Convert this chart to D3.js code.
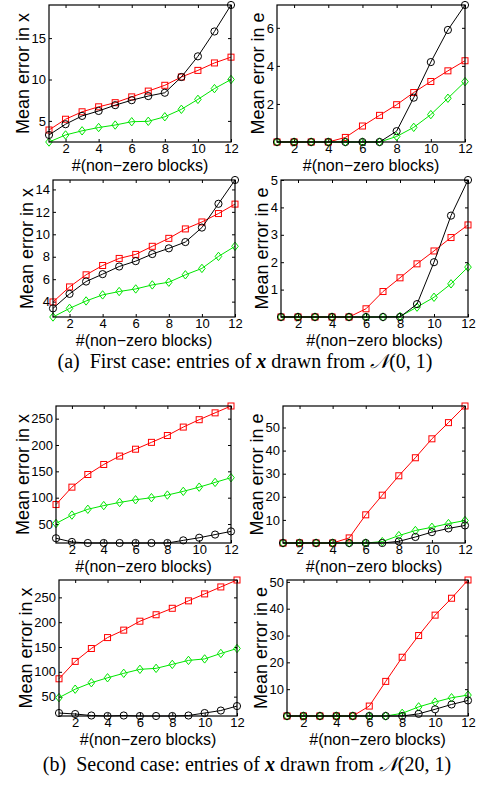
<!DOCTYPE html>
<meta charset="utf-8">
<style>
  body { margin: 0; background: #fff; }
  svg { display: block; }
  .tick text { font-family: "Liberation Sans", Arial, sans-serif; font-size: 13px; fill: #000; }
  .tick line { stroke: #000; }
  .label { font-family: "Liberation Sans", Arial, sans-serif; fill: #000; }
  .caption { font-family: "Liberation Serif", "Times New Roman", serif; font-size: 20px; fill: #000; }
</style>
<svg width="478" height="786"></svg>
<script src="https://cdn.jsdelivr.net/npm/d3@7"></script>
<script>
  // number of non-zero blocks (x axis)
  var blocks = [1, 2, 3, 4, 5, 6, 7, 8, 9, 10, 11, 12];
  var xTicks = [2, 4, 6, 8, 10, 12];

  // (a) first case, x ~ N(0,1)
  var aErrXRed   = [3.9, 5.2, 6.1, 6.7, 7.2, 7.9, 8.6, 9.3, 10.3, 11.1, 12.0, 12.7];
  var aErrXBlack = [3.3, 4.6, 5.6, 6.2, 6.9, 7.5, 8.0, 8.4, 10.3, 12.8, 15.8, 19.0];
  var aErrXGreen = [2.45, 3.3, 3.8, 4.2, 4.5, 4.9, 4.95, 5.5, 6.4, 7.6, 8.9, 10.0];
  var aErrXTicks = [5, 10, 15];

  var aErrERed   = [0, 0, 0, 0, 0.24, 0.84, 1.4, 1.96, 2.6, 3.18, 3.74, 4.27];
  var aErrEBlack = [0, 0, 0, 0, 0, 0, 0, 0.57, 2.33, 4.2, 5.89, 7.2];
  var aErrEGreen = [0, 0, 0, 0, 0, 0, 0, 0.29, 0.77, 1.44, 2.3, 3.17];
  var aErrETicks = [2, 4, 6];

  var aErrX2Red   = [3.97, 5.31, 6.39, 7.22, 7.85, 8.21, 8.93, 9.64, 10.48, 11.1, 11.85, 12.69];
  var aErrX2Black = [3.4, 4.69, 5.79, 6.45, 7.13, 7.61, 8.24, 8.75, 9.31, 10.6, 12.72, 14.84];
  var aErrX2Green = [2.63, 3.4, 4.06, 4.6, 4.9, 5.13, 5.49, 5.73, 6.39, 6.96, 8.03, 8.93];
  var aErrX2Ticks = [4, 6, 8, 10, 12, 14];

  var aErrE2Red   = [0, 0, 0, 0, 0, 0.3, 0.93, 1.43, 1.94, 2.41, 2.9, 3.36];
  var aErrE2Black = [0, 0, 0, 0, 0, 0, 0, 0, 0.47, 2.0, 3.7, 5.0];
  var aErrE2Green = [0, 0, 0, 0, 0, 0, 0, 0.02, 0.36, 0.72, 1.21, 1.82];
  var aErrE2Ticks = [1, 2, 3, 4, 5];

  // (b) second case, x ~ N(20,1)
  var bErrXRed   = [87, 120, 144, 163, 179, 192, 205, 218, 234, 248, 261, 274];
  var bErrXBlack = [23, 16, 14, 14, 14, 14, 14, 14, 19, 24, 30, 36];
  var bErrXGreen = [51, 67, 78, 85, 91, 96, 100, 105, 112, 120, 129, 138];
  var bErrXTicks = [50, 100, 150, 200, 250];

  var bErrERed   = [0, 0, 0, 0, 2.2, 12.2, 20.7, 29.1, 36.9, 45.1, 52.1, 59.3];
  var bErrEBlack = [0, 0, 0, 0, 0, 0, 0, 0.7, 2.6, 4.7, 6.3, 7.6];
  var bErrEGreen = [0, 0, 0, 0, 0, 0, 0.6, 3.2, 5.4, 6.8, 8.4, 9.7];
  var bErrETicks = [10, 20, 30, 40, 50];

  var bErrX2Red   = [86, 121, 147, 169, 184, 202, 215, 228, 243, 257, 271, 285];
  var bErrX2Black = [17, 15, 12, 11, 12, 11, 11, 11, 12, 17, 22, 31];
  var bErrX2Green = [48, 65, 78, 88, 97, 105, 107, 115, 123, 126, 137, 147];
  var bErrX2Ticks = [50, 100, 150, 200, 250];

  var bErrE2Red   = [0, 0, 0, 0, 0, 3.7, 12.9, 21.9, 30, 37.6, 43.9, 50.7];
  var bErrE2Black = [0, 0, 0, 0, 0, 0, 0, 0, 0.8, 2.5, 4.3, 5.8];
  var bErrE2Green = [0, 0, 0, 0, 0, 0, 0, 1.0, 3.4, 5.2, 6.8, 7.8];
  var bErrE2Ticks = [10, 20, 30, 40, 50];

  var xLabel = "#(non\u2212zero blocks)";
  var yLabelX = "Mean error in x", yLabelE = "Mean error in e";

  var svg = d3.select("svg");

  // panel boxes [left, top, right, bottom]
  var panels = [
    {box: [49, 5, 231, 142],    ylab: yLabelX, ticks: aErrXTicks,  red: aErrXRed,   black: aErrXBlack,  green: aErrXGreen},
    {box: [277, 5, 465, 142],   ylab: yLabelE, ticks: aErrETicks,  red: aErrERed,   black: aErrEBlack,  green: aErrEGreen},
    {box: [53, 180, 235, 317],  ylab: yLabelX, ticks: aErrX2Ticks, red: aErrX2Red,  black: aErrX2Black, green: aErrX2Green},
    {box: [281, 180, 468, 317], ylab: yLabelE, ticks: aErrE2Ticks, red: aErrE2Red,  black: aErrE2Black, green: aErrE2Green},
    {box: [56, 406, 231, 543],  ylab: yLabelX, ticks: bErrXTicks,  red: bErrXRed,   black: bErrXBlack,  green: bErrXGreen},
    {box: [283, 406, 465, 543], ylab: yLabelE, ticks: bErrETicks,  red: bErrERed,   black: bErrEBlack,  green: bErrEGreen},
    {box: [59, 580, 237, 716],  ylab: yLabelX, ticks: bErrX2Ticks, red: bErrX2Red,  black: bErrX2Black, green: bErrX2Green},
    {box: [287, 580, 468, 716], ylab: yLabelE, ticks: bErrE2Ticks, red: bErrE2Red,  black: bErrE2Black, green: bErrE2Green}
  ];

  panels.forEach(function(p) { drawPanel(p); });

  function marker(sel, kind, color) {
    if (kind == "square") {
      sel.append("rect").attr("x", -3).attr("y", -3).attr("width", 6).attr("height", 6);
    } else if (kind == "circle") {
      sel.append("circle").attr("r", 3.6);
    } else {
      sel.append("path").attr("d", "M0,-4.2L3.3,0L0,4.2L-3.3,0Z");
    }
    sel.selectAll("*").attr("fill", "none").attr("stroke", color).attr("stroke-width", 1);
  }

  function drawPanel(p) {
    var L = p.box[0], T = p.box[1], R = p.box[2], B = p.box[3];
    var w = R - L, h = B - T;
    var g = svg.append("g").attr("transform", "translate(" + L + "," + T + ")");

    var all = p.red.concat(p.black, p.green);
    var x = d3.scaleLinear().domain([1, 12]).range([0, w]);
    var y = d3.scaleLinear().domain(d3.extent(all)).range([h, 0]);

    // axes with inward ticks (matlab style), mirrored on top/right
    g.append("g").attr("transform", "translate(0," + h + ")")
      .call(d3.axisBottom(x).tickValues(xTicks).tickSizeInner(-3).tickSizeOuter(0).tickPadding(2));
    g.append("g").call(d3.axisTop(x).tickValues(xTicks).tickSizeInner(-3).tickSizeOuter(0).tickFormat(""));
    var gy = g.append("g")
      .call(d3.axisLeft(y).tickValues(p.ticks).tickSizeInner(-3).tickSizeOuter(0).tickPadding(3).tickFormat(d3.format("d")));
    g.append("g").attr("transform", "translate(" + w + ",0)")
      .call(d3.axisRight(y).tickValues(p.ticks).tickSizeInner(-3).tickSizeOuter(0).tickFormat(""));
    g.selectAll(".domain").remove();
    g.selectAll(".tick text").attr("font-size", null).attr("font-family", null);

    var series = [
      {vals: p.red, color: "#ff0000", kind: "square"},
      {vals: p.green, color: "#00e600", kind: "diamond"},
      {vals: p.black, color: "#000000", kind: "circle"}
    ];
    var line = d3.line().x(function(d, i) { return x(blocks[i]); }).y(function(d) { return y(d); });

    series.forEach(function(s) {
      g.append("path").datum(s.vals).attr("d", line)
        .attr("fill", "none").attr("stroke", s.color).attr("stroke-width", 1);
      g.append("g").selectAll("g").data(s.vals).enter().append("g")
        .attr("transform", function(d, i) { return "translate(" + x(blocks[i]) + "," + y(d) + ")"; })
        .each(function() { marker(d3.select(this), s.kind, s.color); });
    });

    g.append("rect").attr("width", w).attr("height", h)
      .attr("fill", "none").attr("stroke", "#000").attr("stroke-width", 1.2);

    // labels
    var tw = 0;
    gy.selectAll(".tick text").each(function() { tw = Math.max(tw, this.getComputedTextLength()); });
    g.append("text").attr("class", "label")
      .attr("text-anchor", "middle")
      .attr("x", w / 2).attr("y", h + 28.5)
      .attr("font-size", 16)
      .text(xLabel);
    g.append("text").attr("class", "label")
      .attr("text-anchor", "middle")
      .attr("transform", "translate(" + (-tw - 12) + "," + (h / 2) + ") rotate(-90)")
      .attr("dy", "0.35em")
      .attr("font-size", 18)
      .text(p.ylab);
  }

  function caption(cx, cy, tag, label, mean) {
    var t = svg.append("text").attr("class", "caption")
      .attr("x", cx).attr("y", cy).attr("text-anchor", "middle");
    t.append("tspan").text(tag + "\u2002" + label + ": entries of ");
    t.append("tspan").attr("font-weight", "bold").attr("font-style", "italic").text("x");
    t.append("tspan").text(" drawn from ");
    t.append("tspan").attr("font-style", "italic").text("\uD835\uDCA9");
    t.append("tspan").text("(" + mean + ", 1)");
  }
  caption(245, 368, "(a)", "First case", 0);
  caption(247, 771, "(b)", "Second case", 20);
</script>
